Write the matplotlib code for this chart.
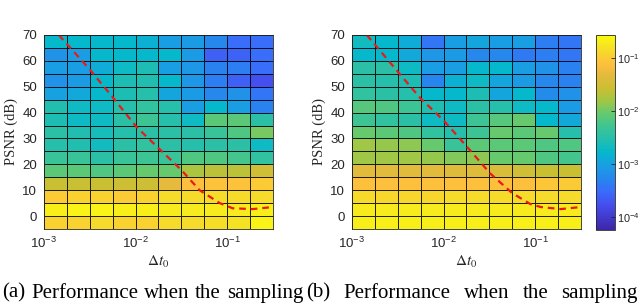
import numpy as np
import matplotlib
matplotlib.use("Agg")
import matplotlib.pyplot as plt
from matplotlib.colors import LinearSegmentedColormap, LogNorm
from matplotlib.ticker import LogLocator, LogFormatterSciNotation, NullLocator

# cell edges (sampling step on log axis, PSNR in dB)
dt_edge_exp = [-3.0, -2.75, -2.5, -2.25, -2.0, -1.75, -1.5, -1.25, -1.0, -0.75, -0.5]
psnr_edges = [-5, 0, 5, 10, 15, 20, 25, 30, 35, 40, 45, 50, 55, 60, 65, 70]

# log10 of the error, rows from PSNR 67.5 (top) down to -2.5 (bottom)
err_a_log = [
    [-2.78, -2.78, -2.78, -2.78, -2.85, -3.04, -3.07, -3.26, -3.51, -3.51],
    [-3.15, -3.04, -2.78, -2.78, -2.78, -2.78, -3.07, -3.62, -3.59, -3.51],
    [-3.04, -3.04, -2.89, -2.70, -2.59, -3.04, -3.11, -3.33, -3.37, -3.51],
    [-3.15, -3.07, -2.78, -2.59, -2.56, -2.78, -3.11, -3.37, -3.62, -3.77],
    [-3.00, -2.93, -2.78, -2.59, -2.52, -2.96, -3.07, -3.26, -3.15, -3.44],
    [-2.56, -2.70, -2.70, -2.52, -2.41, -2.52, -3.04, -2.78, -3.04, -3.33],
    [-2.59, -2.70, -2.70, -2.48, -2.30, -2.52, -2.70, -2.12, -2.12, -2.48],
    [-2.48, -2.56, -2.63, -2.52, -2.48, -2.48, -2.48, -2.34, -2.19, -1.97],
    [-2.52, -2.56, -2.67, -2.48, -2.41, -2.48, -2.52, -2.48, -2.48, -2.70],
    [-2.34, -2.34, -2.48, -2.34, -2.30, -2.34, -2.19, -2.19, -2.26, -2.41],
    [-2.12, -2.12, -2.19, -2.12, -2.04, -2.04, -1.75, -1.67, -1.67, -1.53],
    [-1.60, -1.60, -1.60, -1.56, -1.56, -1.31, -1.12, -1.09, -1.09, -1.01],
    [-1.01, -0.94, -0.94, -1.01, -0.94, -0.86, -0.86, -0.86, -0.86, -0.86],
    [-0.68, -0.64, -0.64, -0.68, -0.68, -0.72, -0.72, -0.72, -0.72, -0.68],
    [-0.94, -0.94, -0.86, -0.94, -0.94, -0.86, -0.86, -0.83, -0.79, -0.64],
]
err_b_log = [
    [-2.67, -2.78, -2.89, -3.44, -3.04, -2.96, -3.04, -3.04, -3.37, -3.44],
    [-2.78, -2.78, -2.93, -3.11, -3.07, -3.26, -3.26, -3.40, -3.37, -3.44],
    [-2.48, -2.48, -2.70, -3.04, -3.04, -2.78, -2.78, -3.04, -3.15, -3.33],
    [-2.48, -2.52, -2.59, -3.29, -2.85, -2.70, -2.96, -3.07, -3.26, -3.33],
    [-2.41, -2.48, -2.52, -2.78, -2.78, -2.59, -2.96, -2.78, -3.22, -3.15],
    [-2.15, -2.19, -2.30, -2.56, -2.70, -2.48, -2.52, -2.70, -2.78, -3.07],
    [-2.30, -2.41, -2.48, -2.70, -2.70, -2.30, -2.15, -2.04, -2.78, -2.93],
    [-2.04, -2.12, -2.19, -2.41, -2.52, -2.30, -2.04, -2.12, -2.04, -2.52],
    [-1.82, -1.86, -1.89, -2.04, -2.34, -2.12, -2.12, -2.12, -2.19, -2.19],
    [-1.82, -1.82, -1.82, -1.86, -1.93, -1.89, -2.04, -2.04, -2.19, -2.26],
    [-1.34, -1.34, -1.34, -1.34, -1.38, -1.38, -1.42, -1.53, -1.60, -1.60],
    [-1.12, -1.12, -1.12, -1.12, -1.12, -1.12, -1.12, -1.12, -1.05, -1.01],
    [-0.86, -0.90, -0.90, -0.90, -0.86, -0.86, -0.86, -0.86, -0.86, -0.86],
    [-0.72, -0.72, -0.72, -0.72, -0.72, -0.72, -0.72, -0.72, -0.72, -0.72],
    [-0.68, -0.68, -0.68, -0.68, -0.68, -0.68, -0.68, -0.68, -0.68, -0.68],
]

# red dashed boundary curve
curve_a_dt = [1.45e-3, 3.1e-3, 5.6e-3, 1.02e-2, 1.74e-2, 3.16e-2, 5.0e-2, 8.3e-2, 0.115, 0.19, 0.316]
curve_a_psnr = [70, 57, 46, 34.5, 26.6, 17.8, 10, 5, 3, 2.7, 3.5]
curve_b_dt = [1.45e-3, 3.2e-3, 5.6e-3, 1.0e-2, 1.82e-2, 3.2e-2, 5.6e-2, 8.9e-2, 0.115, 0.19, 0.316]
curve_b_psnr = [70, 55.6, 45.5, 37, 26.6, 16.6, 8.9, 4.6, 3.5, 2.7, 3.5]

caption_words = ["Performance", "when", "the", "sampling"]
caption_tags = ["(a)", "(b)"]

# parula-like colormap
parula_pts = [
    (0.00, (0.24, 0.15, 0.66)),
    (0.13, (0.27, 0.31, 0.94)),
    (0.20, (0.22, 0.43, 0.98)),
    (0.25, (0.16, 0.51, 0.94)),
    (0.33, (0.10, 0.62, 0.89)),
    (0.40, (0.02, 0.72, 0.80)),
    (0.47, (0.15, 0.75, 0.67)),
    (0.53, (0.24, 0.77, 0.58)),
    (0.60, (0.40, 0.79, 0.43)),
    (0.66, (0.62, 0.78, 0.28)),
    (0.72, (0.78, 0.75, 0.20)),
    (0.80, (0.90, 0.73, 0.24)),
    (0.85, (0.99, 0.75, 0.24)),
    (0.90, (0.98, 0.82, 0.19)),
    (0.94, (0.96, 0.89, 0.14)),
    (1.00, (0.98, 0.98, 0.06)),
]
parula = LinearSegmentedColormap.from_list("parula", parula_pts)
norm = LogNorm(vmin=10 ** -4.25, vmax=10 ** -0.57)

plt.rcParams["mathtext.fontset"] = "stix"
sans = ["Liberation Sans", "DejaVu Sans"]
serif = ["Liberation Serif", "DejaVu Serif"]
tick_col = "#262626"

fig = plt.figure(figsize=(6.4, 3.04), dpi=100)
ax_a = fig.add_axes([0.06875, 0.2467, 0.3578, 0.6382])
ax_b = fig.add_axes([0.55, 0.2467, 0.3578, 0.6382])
cax = fig.add_axes([0.93125, 0.2434, 0.0297, 0.6414])

xe = 10.0 ** np.array(dt_edge_exp)
ye = np.array(psnr_edges)

for ax, err, cdt, cps in [(ax_a, err_a_log, curve_a_dt, curve_a_psnr),
                          (ax_b, err_b_log, curve_b_dt, curve_b_psnr)]:
    z = 10.0 ** np.array(err)[::-1]
    mesh = ax.pcolormesh(xe, ye, z, cmap=parula, norm=norm,
                         edgecolors=(0, 0, 0, 0.85), linewidth=0.6)
    ax.plot(cdt, cps, linestyle=(0, (3, 2.2)), color=(0.92, 0.1, 0.1), lw=1.6)
    ax.set_xscale("log")
    ax.set_xlim(xe[0], xe[-1])
    ax.set_ylim(-5, 70)
    ax.set_yticks([0, 10, 20, 30, 40, 50, 60, 70])
    ax.xaxis.set_major_locator(LogLocator(base=10, numticks=5))
    ax.xaxis.set_major_formatter(LogFormatterSciNotation())
    ax.xaxis.set_minor_locator(NullLocator())
    ax.tick_params(direction="in", length=3, width=0.6, colors=tick_col,
                   labelsize=9.5, top=True, right=True, pad=5)
    for lab in ax.get_xticklabels() + ax.get_yticklabels():
        lab.set_family(sans)
    for s in ax.spines.values():
        s.set_color(tick_col)
        s.set_linewidth(0.6)
    ax.set_xlabel(r"$\Delta t_0$", fontsize=11, color=tick_col, labelpad=2)
    ax.set_ylabel("PSNR (dB)", family=serif, fontsize=10.5, color=tick_col, labelpad=3)

cb = fig.colorbar(mesh, cax=cax)
cb.outline.set_linewidth(0.6)
cb.outline.set_edgecolor(tick_col)
cax.yaxis.set_major_locator(LogLocator(base=10, numticks=6))
cax.yaxis.set_major_formatter(LogFormatterSciNotation())
cax.yaxis.set_minor_locator(NullLocator())
cax.tick_params(direction="in", length=3, width=0.6, colors=tick_col, labelsize=7.8, pad=1.5)
for lab in cax.get_yticklabels():
    lab.set_family(sans)

# captions, words spread out like justified text
fig.canvas.draw()
rend = fig.canvas.get_renderer()
for tag, x0, x1 in [(caption_tags[0], 2, 303), (caption_tags[1], 306, 638)]:
    words = [tag] + caption_words
    texts = [fig.text(0, 0.036, w, family=serif, fontsize=15, va="center", ha="left")
             for w in words]
    widths = [t.get_window_extent(rend).width for t in texts]
    gap = (x1 - x0 - sum(widths)) / (len(words) - 1)
    x = x0
    for t, w in zip(texts, widths):
        t.set_x(x / 640)
        x += w + gap

fig.savefig("out.png", dpi=100)
